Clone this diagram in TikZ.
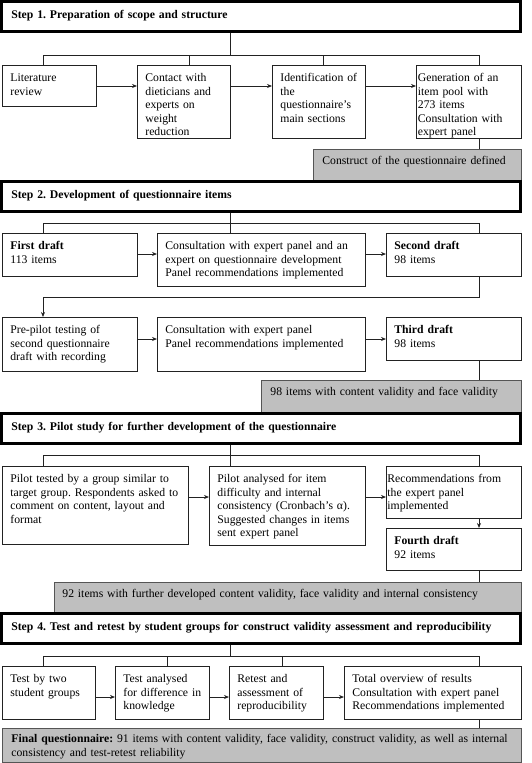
\documentclass[tikz,border=0pt]{standalone}
\usepackage{fontspec}
\setmainfont{Liberation Serif}
\usepackage{tikz}
\usetikzlibrary{arrows.meta}
\definecolor{linegray}{HTML}{222222}
\definecolor{panelgray}{HTML}{BFBFBF}
\definecolor{panelframe}{HTML}{555555}
\newcommand{\boxfont}{\fontsize{11.7}{13.6}\selectfont}
\frenchspacing

\begin{document}
\begin{tikzpicture}[
    x=1pt, y=-1pt,
    >={Stealth[length=5pt,width=4pt]},
    every node/.style={font=\boxfont},
    stepbox/.style={
        rectangle,
        draw=black,
        line width=2.6pt,
        anchor=north west,
        align=left,
        text width=499pt,
        inner xsep=10pt,
        inner ysep=5pt,
        text height=12pt,
        text depth=8pt
    },
    box/.style={
        rectangle,
        draw=linegray,
        fill=white,
        line width=0.8pt,
        anchor=north west,
        align=left,
        inner xsep=8pt,
        inner ysep=4pt,
        text height=12pt
    },
    result/.style={
        rectangle,
        draw=panelframe,
        fill=panelgray,
        line width=0.8pt,
        anchor=north west,
        align=left,
        inner xsep=9pt,
        inner ysep=4pt,
        text height=11pt
    },
    link/.style={draw=linegray, line width=0.8pt}
]
    \useasboundingbox (0,0) rectangle (531,763);

    % fixed columns for the branch lines
    \coordinate (colL) at (43,0);
    \coordinate (colM) at (230,0);
    \coordinate (colR) at (479,0);

    % === STEP 1 ===
    \node[stepbox] (step1) at (0,0) {\textbf{Step 1. Preparation of scope and structure}};

    \node[box, text width=78pt, text depth=21pt] (lit) at (2,65) {Literature\\review};
    \node[box, text width=77pt, text depth=53pt] (contact) at (137,65) {Contact with\\dieticians and\\experts on\\weight\\reduction};
    \node[box, text width=77pt, text depth=53pt] (ident) at (272,65) {Identification of\\the\\questionnaire's\\main sections};
    \node[box, inner xsep=1.5pt, text width=102pt, text depth=53pt] (gen) at (416,65) {Generation of an\\item pool with\\273 items\\Consultation with\\expert panel};

    \node[result, text width=190pt, text depth=12pt] (res1) at (313,149) {Construct of the questionnaire defined};

    \coordinate (bar1) at (0,55);
    \coordinate (row1) at (0,86);
    \draw[link] (colM |- step1.south) -- (colM |- bar1);
    \draw[link] (colL |- lit.north) -- (colL |- bar1) -- (colR |- bar1) -- (colR |- gen.north);
    \draw[link] (189,55) -- (contact.north -| 189,0);
    \draw[link] (323,55) -- (ident.north -| 323,0);
    \draw[link, ->] (lit.east |- row1) -- (contact.west |- row1);
    \draw[link, ->] (contact.east |- row1) -- (ident.west |- row1);
    \draw[link, ->] (ident.east |- row1) -- (gen.west |- row1);
    \draw[link] (colR |- gen.south) -- (colR |- res1.north);

    % === STEP 2 ===
    \node[stepbox] (step2) at (0,180) {\textbf{Step 2. Development of questionnaire items}};

    \node[box, text width=119pt, text depth=23pt] (first) at (2,233) {\textbf{First draft}\\113 items};
    \node[box, text width=192pt, text depth=33pt] (cons1) at (157,233) {Consultation with expert panel and an\\expert on questionnaire development\\Panel recommendations implemented};
    \node[box, text width=119pt, text depth=23pt] (second) at (386,233) {\textbf{Second draft}\\98 items};

    \node[box, text width=119pt, text depth=34pt] (prepilot) at (2,317) {Pre-pilot testing of\\second questionnaire\\draft with recording};
    \node[box, text width=192pt, text depth=34pt] (cons2) at (157,317) {Consultation with expert panel\\Panel recommendations implemented};
    \node[box, text width=119pt, text depth=23pt] (third) at (386,317) {\textbf{Third draft}\\98 items};

    \node[result, text width=242pt, text depth=13pt] (res2) at (261,380) {98 items with content validity and face validity};

    \coordinate (bar2) at (0,223);
    \coordinate (row2) at (0,254);
    \coordinate (turn2) at (0,297);
    \coordinate (row3) at (0,339);
    \draw[link] (colM |- step2.south) -- (colM |- cons1.north);
    \draw[link] (colL |- first.north) -- (colL |- bar2) -- (colR |- bar2) -- (colR |- second.north);
    \draw[link, ->] (first.east |- row2) -- (cons1.west |- row2);
    \draw[link, ->] (cons1.east |- row2) -- (second.west |- row2);
    \draw[link, ->] (colR |- second.south) -- (colR |- turn2) -- (colL |- turn2) -- (colL |- prepilot.north);
    \draw[link, ->] (prepilot.east |- row3) -- (cons2.west |- row3);
    \draw[link, ->] (cons2.east |- row3) -- (third.west |- row3);
    \draw[link] (colR |- third.south) -- (colR |- res2.north);

    % === STEP 3 ===
    \node[stepbox] (step3) at (0,412) {\textbf{Step 3. Pilot study for further development of the questionnaire}};

    \node[box, text width=170pt, text depth=58pt] (pilot) at (2,466) {Pilot tested by a group similar to\\target group. Respondents asked to\\comment on content, layout and\\format};
    \node[box, text width=140pt, text depth=59pt] (analysed) at (209,466) {Pilot analysed for item\\difficulty and internal\\consistency (Cronbach's α).\\Suggested changes in items\\sent expert panel};
    \node[box, inner xsep=1pt, text width=133pt, text depth=32pt] (recs) at (386,466) {Recommendations from\\the expert panel\\implemented};
    \node[box, text width=119pt, text depth=22pt] (fourth) at (386,528) {\textbf{Fourth draft}\\92 items};

    \node[result, inner xsep=8pt, text width=451pt, text depth=11pt] (res3) at (54,582) {92 items with further developed content validity, face validity and internal consistency};

    \coordinate (bar3) at (0,455);
    \coordinate (row4) at (0,497);
    \draw[link] (colM |- step3.south) -- (colM |- analysed.north);
    \draw[link] (colL |- pilot.north) -- (colL |- bar3) -- (colR |- bar3) -- (colR |- recs.north);
    \draw[link, ->] (pilot.east |- row4) -- (analysed.west |- row4);
    \draw[link, ->] (analysed.east |- row4) -- (recs.west |- row4);
    \draw[link, ->] (colR |- recs.south) -- (colR |- fourth.north);
    \draw[link] (colR |- fourth.south) -- (colR |- res3.north);

    % === STEP 4 ===
    \node[stepbox] (step4) at (0,612) {\textbf{Step 4. Test and retest by student groups for construct validity assessment and reproducibility}};

    \node[box, text width=77pt, text depth=33pt] (test) at (2,666) {Test by two\\student groups};
    \node[box, text width=78pt, text depth=33pt] (diff) at (115,666) {Test analysed\\for difference in\\knowledge};
    \node[box, text width=78pt, text depth=33pt] (retest) at (229,666) {Retest and\\assessment of\\reproducibility};
    \node[box, text width=161pt, text depth=33pt] (total) at (344,666) {Total overview of results\\Consultation with expert panel\\Recommendations implemented};

    \node[result, text width=501pt, text height=10pt, text depth=16pt] (final) at (2,728) {\textbf{Final questionnaire:} 91 items with content validity, face validity, construct validity, as well as internal\\consistency and test-retest reliability};

    \coordinate (bar4) at (0,656);
    \coordinate (row5) at (0,697);
    \draw[link] (colM |- step4.south) -- (colM |- bar4);
    \draw[link] (colL |- test.north) -- (colL |- bar4) -- (colR |- bar4) -- (colR |- total.north);
    \draw[link] (167,656) -- (diff.north -| 167,0);
    \draw[link] (282,656) -- (retest.north -| 282,0);
    \draw[link, ->] (test.east |- row5) -- (diff.west |- row5);
    \draw[link, ->] (diff.east |- row5) -- (retest.west |- row5);
    \draw[link, ->] (retest.east |- row5) -- (total.west |- row5);
    \draw[link] (colR |- total.south) -- (colR |- final.north);
\end{tikzpicture}
\end{document}
